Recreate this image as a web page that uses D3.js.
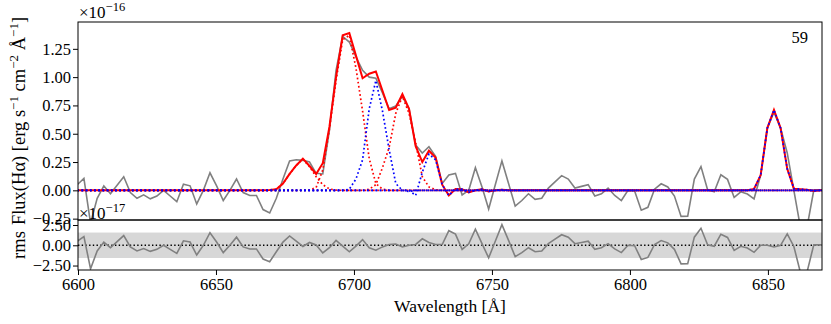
<!DOCTYPE html>
<html>
<head>
<meta charset="utf-8">
<script src="https://cdnjs.cloudflare.com/ajax/libs/d3/7.8.5/d3.min.js"></script>
<style>
  body { margin: 0; background: #fff; }
  svg text { font-family: "Liberation Serif", "DejaVu Serif", serif; fill: #000; }
</style>
</head>
<body>
<svg id="svg" width="831" height="324"></svg>
<script>
// wavelength sampling of the spectrum (Angstrom)
var lam0 = 6599.74, dLam = 2.4043;

// observed flux, units of 1e-16 erg/s/cm2/A (one value per spectral pixel)
var flux = [0.05, 0.106, -0.29, -0.07, 0.04, -0.03, 0.045, 0.12, -0.02, -0.07,
	-0.04, -0.075, -0.05, 0.0, -0.05, -0.10, 0.055, 0.04, -0.12, 0.0,
	0.155, 0.04, -0.09, 0.0, 0.10, -0.02, -0.045, -0.045, -0.17, -0.20,
	-0.07, 0.10, 0.26, 0.27, 0.265, 0.25, 0.15, 0.145, 0.53, 1.06,
	1.36, 1.31, 1.18, 1.06, 1.00, 0.99, 0.86, 0.72, 0.745, 0.83,
	0.72, 0.40, 0.33, 0.385, 0.30, 0.06, 0.135, 0.15, -0.04, 0.0,
	0.20, 0.03, -0.165, 0.05, 0.26, 0.06, -0.14, -0.09, -0.03, -0.08,
	-0.07, 0.02, 0.075, 0.13, 0.10, 0.02, 0.035, 0.05, -0.05, -0.03,
	0.02, -0.045, -0.09, 0.0, -0.005, -0.175, -0.15, 0.01, 0.058, 0.03,
	-0.05, -0.23, -0.228, 0.10, 0.21, 0.005, -0.012, 0.137, 0.097, -0.063,
	-0.013, -0.033, -0.075, 0.135, 0.55, 0.69, 0.55, 0.33, 0.0, -0.33,
	-0.32, 0.0, 0.005, 0.0];

// total fitted model (red solid)
var model = [0, 0, 0, 0, 0, 0, 0, 0, 0, 0,
	0, 0, 0, 0, 0, 0, 0, 0, 0, 0,
	0, 0, 0, 0, 0, 0, 0, 0, 0, 0.003,
	0.01, 0.06, 0.145, 0.22, 0.28, 0.215, 0.145, 0.24, 0.56, 1.00,
	1.37, 1.39, 1.19, 0.99, 1.03, 1.05, 0.88, 0.71, 0.73, 0.85,
	0.72, 0.39, 0.25, 0.35, 0.29, 0.05, -0.045, 0.012, 0.01, -0.018,
	0.0, 0.01, -0.01, 0.0, 0.006, 0, 0, 0, 0, 0,
	0, 0, 0, 0, 0, 0, 0, 0, 0, 0,
	0, 0, 0, 0, 0, 0, 0, 0, 0, 0,
	0, 0, 0, 0, 0, 0, 0, 0, 0, 0,
	0, 0, 0.012, 0.135, 0.55, 0.71, 0.55, 0.19, 0.015, 0.01,
	0.005, -0.005, 0.0, 0.0];

// fitted components: first pixel index + values (zero outside)
var compF = { start: 29, vals: [0.003, 0.01, 0.06, 0.145, 0.22, 0.275, 0.21, 0.12, 0.05, 0.012, 0.002] };
var compA = { start: 35, vals: [0.002, 0.025, 0.18, 0.54, 0.97, 1.33, 1.37, 1.08, 0.70, 0.28, 0.06, 0.01] };
var compC = { start: 44, vals: [0.01, 0.05, 0.20, 0.38, 0.68, 0.83, 0.68, 0.42, 0.12, 0.03, 0.005] };
var compB = { start: 41, vals: [0.01, 0.10, 0.27, 0.72, 0.97, 0.70, 0.36, 0.06, 0.0, -0.01] };
var compD = { start: 51, vals: [-0.045, 0.16, 0.32, 0.27, 0.05, -0.045, 0.012, 0.01, -0.018, 0.0, 0.01, -0.01, 0.0, 0.006] };
var compE = { start: 102, vals: [0.012, 0.135, 0.55, 0.71, 0.55, 0.19, 0.015, 0.01, 0.005, -0.005] };

var redComps = [compF, compA, compC];
var blueComps = [compB, compD, compE];

var rmsLevel = 1.57;          // rms band, units of 1e-17
var xTicks = [6600, 6650, 6700, 6750, 6800, 6850];
var yTicksMain = [-0.25, 0, 0.25, 0.5, 0.75, 1.0, 1.25];
var yTicksRes = [-2.5, 0, 2.5];
var panelLabel = "59";

var wave = flux.map(function(d, i) { return lam0 + i * dLam; });
var resid = flux.map(function(d, i) { return (d - model[i]) * 10; });
function expand(c) {
	return flux.map(function(d, i) {
		var k = i - c.start;
		return (k >= 0 && k < c.vals.length) ? c.vals[k] : 0;
	});
}

var svg = d3.select("#svg"),
	pLeft = 78, pRight = 822, pTop = 22, pMid = 220, pBottom = 270;

var x = d3.scaleLinear().domain([6600, 6869.6]).range([pLeft, pRight]);
var yM = d3.scaleLinear().domain([-0.262, 1.487]).range([pMid, pTop]);
var yR = d3.scaleLinear().domain([-3.05, 3.12]).range([pBottom, pMid]);

var defs = svg.append("defs");
defs.append("clipPath").attr("id", "clipM").append("rect")
	.attr("x", pLeft).attr("y", pTop).attr("width", pRight - pLeft).attr("height", pMid - pTop);
defs.append("clipPath").attr("id", "clipR").append("rect")
	.attr("x", pLeft).attr("y", pMid).attr("width", pRight - pLeft).attr("height", pBottom - pMid);

// ---- main panel
var gM = svg.append("g").attr("clip-path", "url(#clipM)");
var lineM = function(arr) {
	return d3.line().x(function(d, i) { return x(wave[i]); }).y(function(d) { return yM(d); })(arr);
};

gM.append("path").attr("d", lineM(flux))
	.attr("fill", "none").attr("stroke", "#808080").attr("stroke-width", 1.6);
gM.append("path").attr("d", lineM(model))
	.attr("fill", "none").attr("stroke", "#ff0000").attr("stroke-width", 2);
redComps.forEach(function(c) {
	gM.append("path").attr("d", lineM(expand(c)))
		.attr("fill", "none").attr("stroke", "#ff0000").attr("stroke-width", 1.7)
		.attr("stroke-dasharray", "1.7,2.5");
});
blueComps.forEach(function(c) {
	gM.append("path").attr("d", lineM(expand(c)))
		.attr("fill", "none").attr("stroke", "#0000ff").attr("stroke-width", 1.7)
		.attr("stroke-dasharray", "1.7,2.5");
});

svg.append("rect").attr("x", pLeft).attr("y", pTop).attr("width", pRight - pLeft).attr("height", pMid - pTop)
	.attr("fill", "none").attr("stroke", "#000").attr("stroke-width", 1);

svg.append("g").attr("transform", "translate(" + pLeft + ",0)")
	.call(d3.axisLeft(yM).tickValues(yTicksMain).tickFormat(d3.format(".2f")).tickSize(5).tickPadding(2))
	.call(function(g) { g.select(".domain").remove(); })
	.call(function(g) { g.selectAll("text").attr("font-size", 16.5).attr("font-family", null); });

// ---- residual panel
var gR = svg.append("g").attr("clip-path", "url(#clipR)");
gR.append("rect").attr("x", pLeft).attr("width", pRight - pLeft)
	.attr("y", yR(rmsLevel)).attr("height", yR(-rmsLevel) - yR(rmsLevel))
	.attr("fill", "#d3d3d3").attr("fill-opacity", 0.9);
gR.append("line").attr("x1", pLeft).attr("x2", pRight).attr("y1", yR(0)).attr("y2", yR(0))
	.attr("stroke", "#000").attr("stroke-width", 1.4).attr("stroke-dasharray", "1.4,2.3");
gR.append("path")
	.attr("d", d3.line().x(function(d, i) { return x(wave[i]); }).y(function(d) { return yR(d); })(resid))
	.attr("fill", "none").attr("stroke", "#808080").attr("stroke-width", 1.6);

svg.append("rect").attr("x", pLeft).attr("y", pMid).attr("width", pRight - pLeft).attr("height", pBottom - pMid)
	.attr("fill", "none").attr("stroke", "#000").attr("stroke-width", 1);

svg.append("g").attr("transform", "translate(" + pLeft + ",0)")
	.call(d3.axisLeft(yR).tickValues(yTicksRes).tickFormat(d3.format(".2f")).tickSize(5).tickPadding(2))
	.call(function(g) { g.select(".domain").remove(); })
	.call(function(g) { g.selectAll("text").attr("font-size", 16.5).attr("font-family", null); });

svg.append("g").attr("transform", "translate(0," + pBottom + ")")
	.call(d3.axisBottom(x).tickValues(xTicks).tickFormat(d3.format("d")).tickSize(5).tickPadding(3))
	.call(function(g) { g.select(".domain").remove(); })
	.call(function(g) { g.selectAll("text").attr("font-size", 16.5).attr("font-family", null); });

// ---- texts
function sci(xp, yp, exp) {
	var t = svg.append("text").attr("x", xp).attr("y", yp).attr("font-size", 17);
	t.append("tspan").text("\u00d710");
	t.append("tspan").attr("dy", -7).attr("font-size", 12.5).text("\u2212" + exp);
}
sci(79, 18, "16");
sci(79, 219, "17");

svg.append("text").attr("x", 808).attr("y", 43).attr("text-anchor", "end")
	.attr("font-size", 16.5).text(panelLabel);

svg.append("text").attr("x", (pLeft + pRight) / 2).attr("y", 312).attr("text-anchor", "middle")
	.attr("font-size", 17.5).text("Wavelength [\u00c5]");

var yl = svg.append("text").attr("transform", "translate(25," + ((pTop + pMid) / 2) + ") rotate(-90)")
	.attr("text-anchor", "middle").attr("font-size", 18.5);
yl.append("tspan").text("Flux(H\u03b1) [erg s");
yl.append("tspan").attr("dy", -7).attr("font-size", 13).text("\u22121");
yl.append("tspan").attr("dy", 7).text(" cm");
yl.append("tspan").attr("dy", -7).attr("font-size", 13).text("\u22122");
yl.append("tspan").attr("dy", 7).text(" \u00c5");
yl.append("tspan").attr("dy", -7).attr("font-size", 13).text("\u22121");
yl.append("tspan").attr("dy", 7).text("]");

svg.append("text").attr("transform", "translate(25," + ((pMid + pBottom) / 2) + ") rotate(-90)")
	.attr("text-anchor", "middle").attr("font-size", 18.5).text("rms");
</script>
</body>
</html>
